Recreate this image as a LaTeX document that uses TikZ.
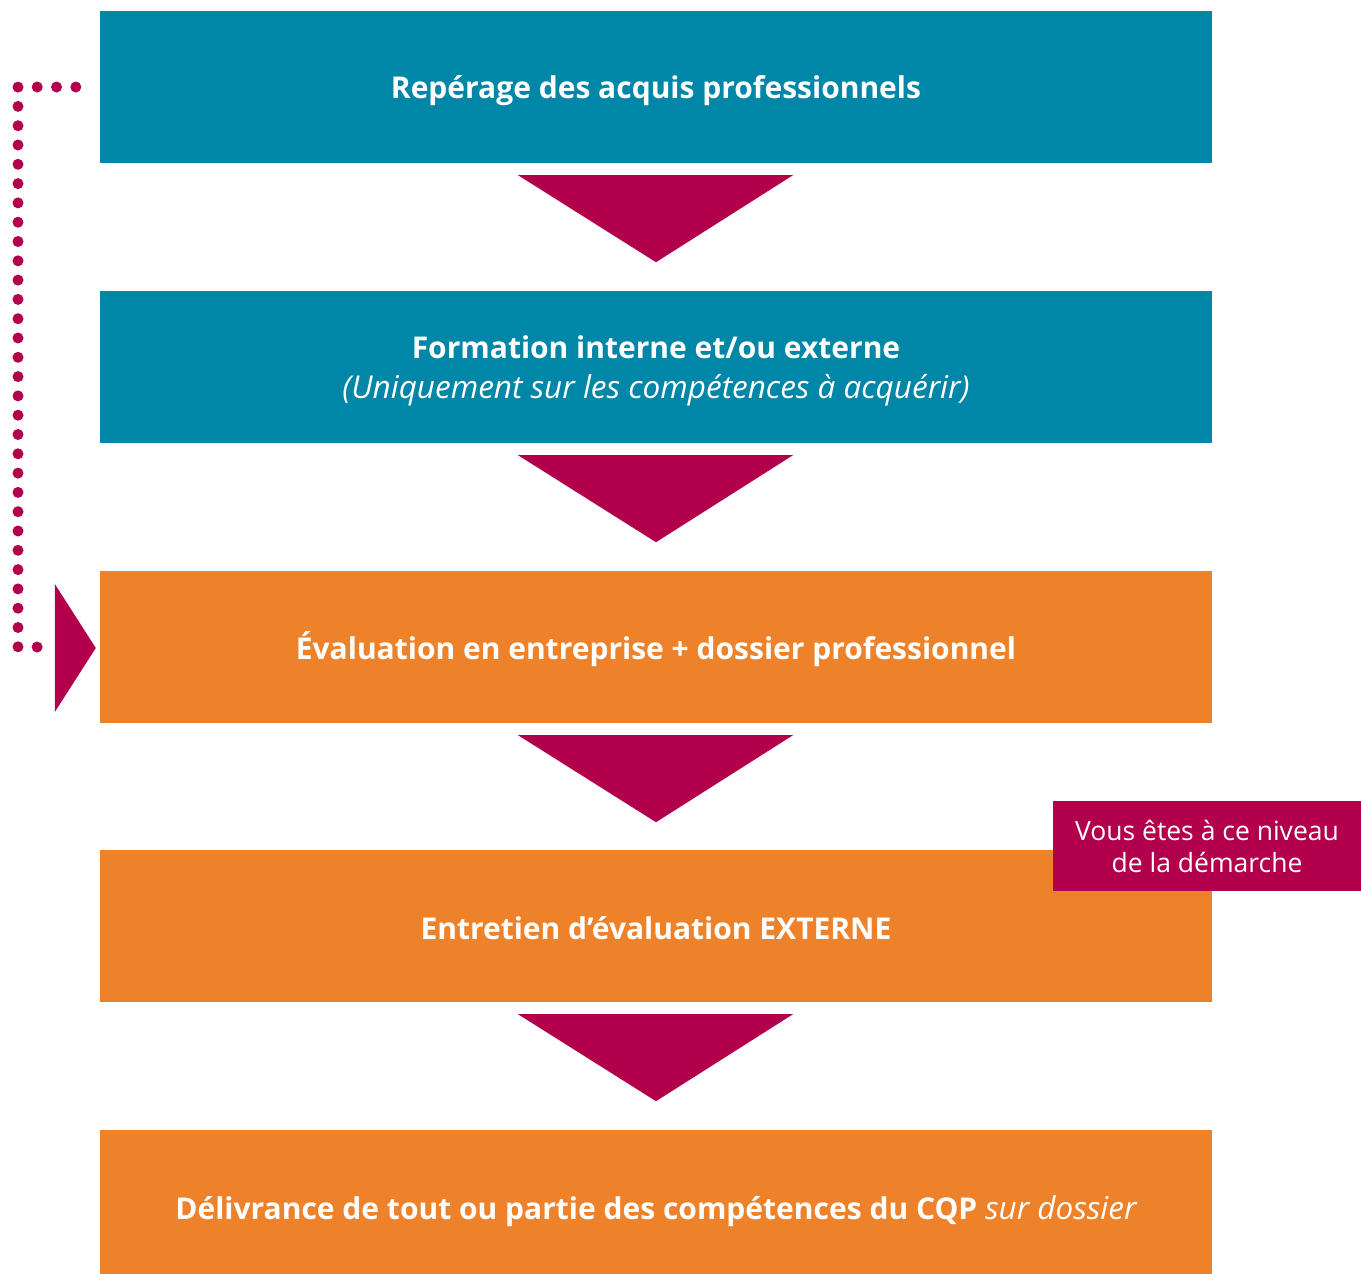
\documentclass[tikz,border=0pt]{standalone}
\usepackage{fontspec}
\setmainfont{Open Sans}
\usetikzlibrary{calc}
\definecolor{teal}{HTML}{0086A7}
\definecolor{orng}{HTML}{EE822A}
\definecolor{mgnt}{HTML}{B3004D}
\newcommand{\stepsub}{\mdseries\itshape\fontsize{31.5}{38}\selectfont}
\begin{document}
\begin{tikzpicture}[x=1pt,y=-1pt,
  stepbox/.style={fill=#1,minimum width=1112pt,minimum height=152pt,inner sep=0pt},
  steptext/.style={inner sep=0pt,text=white,align=center,
    font=\fontsize{30}{38}\selectfont\bfseries},
  downtri/.style={fill=mgnt},
  dotline/.style={draw=mgnt,line width=11pt,line cap=round,dash pattern=on 0pt off 19.3pt},
  callout/.style={fill=mgnt,minimum width=308pt,minimum height=90pt,inner sep=0pt,
    text=white,align=center,font=\fontsize{26.5}{32}\selectfont}]
\useasboundingbox (0,0) rectangle (1361,1274);

% process steps
\node[stepbox=teal] (b1) at (656,87) {};
\node[stepbox=teal] (b2) at (656,367) {};
\node[stepbox=orng] (b3) at (656,647) {};
\node[stepbox=orng] (b4) at (656,926) {};
\fill[orng] (100,1130) rectangle (1212,1274);

% step captions
\node[steptext] (t1) at ($(b1.center)+(0,4)$) {Repérage des acquis professionnels};
\node[steptext] (t2) at ($(b2.center)+(0,4)$) {Formation interne et/ou externe\\[2pt]
  {\stepsub (Uniquement sur les compétences à acquérir)}};
\node[steptext] (t3) at ($(b3.center)+(0,2)$) {Évaluation en entreprise + dossier professionnel};
\node[steptext] (t4) at ($(b4.center)+(0,2)$) {Entretien d’évaluation EXTERNE};
\node[steptext] (t5) at (656,1211)
  {Délivrance de tout ou partie des compétences du CQP {\stepsub sur dossier}};

% arrows between steps
\foreach \a in {b1,b2,b3,b4} {
  \fill[downtri] ($(\a.south)+(-138,12)$) -- ($(\a.south)+(137,12)$) -- ($(\a.south)+(0,99)$) -- cycle;
}

% return loop to the evaluation step
\coordinate (loopA) at ($(b1.west)+(-24,0)$);
\coordinate (loopB) at ($(b3.west)+(-60,0)$);
\draw[dotline] (loopA) -- (18,87) -- (18,647) -- (loopB);
\fill[downtri] ($(b3.west)+(-45,-63)$) -- ($(b3.west)+(-4,1)$) -- ($(b3.west)+(-45,65)$) -- cycle;

% current position marker
\node[callout] (here) at (1207,846) {Vous êtes à ce niveau\\de la démarche};
\end{tikzpicture}
\end{document}
